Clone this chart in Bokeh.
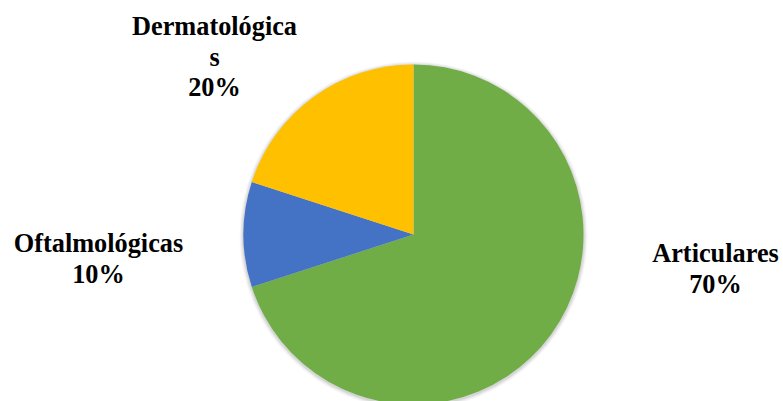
import math
from bokeh.plotting import figure
from bokeh.models import Range1d, ColumnDataSource
from bokeh.core.properties import value
from bokeh.embed import file_html
from bokeh.resources import INLINE

# ---- data ----
categories = ["Articulares", "Oftalmológicas", "Dermatológicas"]
values = [70, 10, 20]
colors = ["#70AD47", "#4472C4", "#FFC000"]

# ---- layout (pixel-like coordinates: x = px, y = 401 - py) ----
W, H = 783, 401
cx, cy, R = 413, 401 - 234, 170
label_pos = {  # x centre, baseline of first line (in page px)
    "Articulares": (715, 262),
    "Oftalmológicas": (98, 252),
    "Dermatológicas": (214, 35),
}
baseline_fix = -9
wrap_at = {"Dermatológicas": 13}
line_step = 30.5
font_px = "26.3px"

p = figure(width=W, height=H, x_range=Range1d(0, W), y_range=Range1d(0, H),
           output_backend="svg", toolbar_location=None, min_border=0)
p.axis.visible = False
p.grid.visible = False
p.outline_line_color = None
p.background_fill_color = "white"
p.border_fill_color = "white"

# soft shadow around the pie
for i, a in enumerate([0.05, 0.05, 0.04, 0.03]):
    p.circle(x=[cx], y=[cy - 1], radius=R + 1 + i, fill_color="#000000", fill_alpha=a, line_color=None)

total = sum(values)
starts, ends = [], []
ang = math.pi / 2
for v in values:
    starts.append(ang)
    ang -= 2 * math.pi * v / total
    ends.append(ang)

src = ColumnDataSource(dict(start=starts, end=ends, color=colors, cat=categories))
p.wedge(x=cx, y=cy, radius=R, start_angle="start", end_angle="end", direction="clock",
        fill_color="color", line_color=None, source=src)

xs, ys, txt = [], [], []
for c, v in zip(categories, values):
    name = c
    if c in wrap_at:
        n = wrap_at[c]
        lines = [name[:n], name[n:]]
    else:
        lines = [name]
    lines.append(f"{round(100 * v / total)}%")
    lx, lb = label_pos[c]
    for k, ln in enumerate(lines):
        xs.append(lx)
        ys.append(401 - (lb + baseline_fix + k * line_step))
        txt.append(ln)

p.text(x=xs, y=ys, text=txt, text_align="center", text_baseline="alphabetic",
       text_font=value("Liberation Serif"), text_font_style="bold",
       text_font_size=font_px, text_color="#000000")

open("out.html", "w").write(file_html(p, INLINE))
